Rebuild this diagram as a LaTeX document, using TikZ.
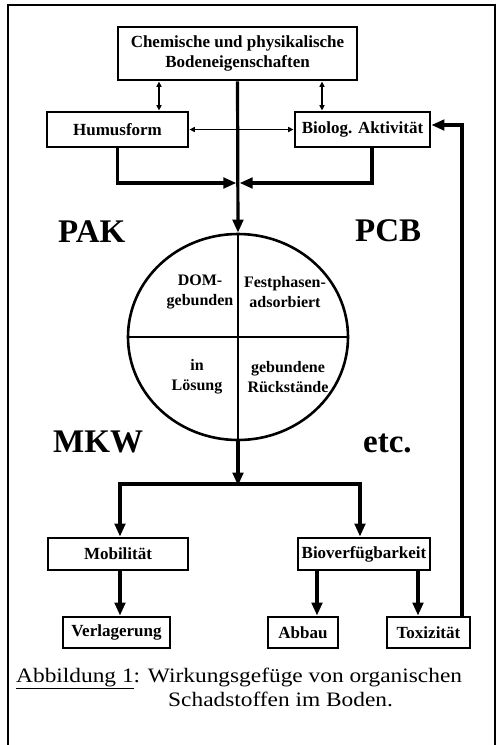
\documentclass[tikz,border=0pt]{standalone}
\usepackage{fontspec}
\setmainfont{Liberation Serif}
\newfontfamily\capfont[FakeStretch=1.14]{Liberation Serif}
\usetikzlibrary{arrows.meta,calc,shapes.geometric}
\begin{document}
\begin{tikzpicture}[x=1pt,y=-1pt,
  box/.style={draw,line width=2.8pt,inner sep=0pt,align=center,
    font=\fontsize{17}{20}\selectfont\bfseries},
  flow/.style={line width=3.2pt,-{Triangle[length=13pt,width=10.5pt]}},
  link/.style={line width=1.4pt,{Triangle[length=5.5pt,width=5pt]}-{Triangle[length=5.5pt,width=5pt]}},
  big/.style={font=\fontsize{33}{36}\selectfont\bfseries,inner sep=0pt,anchor=base west},
  seg/.style={align=center,inner sep=0pt,font=\fontsize{16}{20}\selectfont\bfseries},
  captext/.style={anchor=base west,inner sep=0pt,font=\capfont\fontsize{20.5}{24}\selectfont}
]
\useasboundingbox (0,0) rectangle (502,745);
% outer frame
\draw[line width=2.8pt] (8,760) -- (8,5) -- (495,5) -- (495,760);

% upper boxes
\node[box,minimum width=239pt,minimum height=53pt] (chem) at (237.5,53.5)
  {Chemische und physikalische\\Bodeneigenschaften};
\node[box,minimum width=141pt,minimum height=35pt] (hum) at (117.5,129.5) {Humusform};
\node[box,minimum width=135pt,minimum height=35pt] (bio) at (362.5,129.5) {Biolog. Aktivität};

% fractions of the pollutant
\node[draw,ellipse,line width=2.6pt,inner sep=0pt,minimum width=220pt,minimum height=206pt]
  (ring) at (238,337) {};
\draw[line width=2.8pt] (ring.west) -- (ring.east);
\draw[line width=2.8pt] (ring.north) -- (ring.south);
\node[seg] (dom) at (200,292) {DOM-\\gebunden};
\node[seg] (fest) at (285,292) {Festphasen-\\adsorbiert};
\node[seg] (loes) at (197,377) {in\\Lösung};
\node[seg] (rueck) at (288,377) {gebundene\\Rückstände};

% substance groups
\node[big] (pak) at (58,242) {PAK};
\node[big] (pcb) at (355,241) {PCB};
\node[big] (mkw) at (53,452) {MKW};
\node[big] (etc) at (363,452) {etc.};

% lower boxes
\node[box,minimum width=140pt,minimum height=32pt] (mob) at (118,554) {Mobilität};
\node[box,minimum width=132pt,minimum height=32pt] (bv) at (364,554) {Bioverfügbarkeit};
\node[box,minimum width=107pt,minimum height=31pt] (ver) at (116.5,632.5) {Verlagerung};
\node[box,minimum width=70pt,minimum height=31pt] (abb) at (303,632.5) {Abbau};
\node[box,minimum width=83pt,minimum height=31pt] (tox) at (428.5,632.5) {Toxizität};

% helper coordinates
\coordinate (t1) at (159,0);
\coordinate (t2) at (322,0);
\coordinate (bx) at (372,0);
\coordinate (jn) at (238,183);
\coordinate (split) at (238,484);
\coordinate (sl) at (120,484);
\coordinate (sr) at (360,484);
\coordinate (a2) at (317,0);
\coordinate (a3) at (418,0);
\coordinate (fb) at (462,0);
\coordinate (fy) at (0,125);

% interactions in the upper part
\draw[link] (t1 |- chem.south) -- (t1 |- hum.north);
\draw[link] (t2 |- chem.south) -- (t2 |- bio.north);
\draw[link] (hum.east) -- (bio.west);
\draw[flow] (chem.south) -- (ring.north);
\draw[flow] (hum.south) -- (hum.south |- jn) -- ([xshift=-1.6pt]jn);
\draw[flow] (bx |- bio.south) -- (bx |- jn) -- ([xshift=1.6pt]jn);

% lower part
\draw[flow] (ring.south) -- ([yshift=-1.6pt]split);
\draw[line width=3.2pt,{Triangle[length=13pt,width=10.5pt]}-{Triangle[length=13pt,width=10.5pt]}]
  (sl |- mob.north) -- (sl) -- (sr) -- (sr |- bv.north);
\draw[flow] (sl |- mob.south) -- (sl |- ver.north);
\draw[flow] (a2 |- bv.south) -- (a2 |- abb.north);
\draw[flow] (a3 |- bv.south) -- (a3 |- tox.north);
\draw[flow] (fb |- tox.north) -- (fb |- fy) -- (bio.east |- fy);

% caption
\node[captext] (cap1) at (16,682) {\underline{Abbildung 1}: Wirkungsgefüge von organischen};
\node[captext] (cap2) at (168,706) {Schadstoffen im Boden.};
\end{tikzpicture}
\end{document}
